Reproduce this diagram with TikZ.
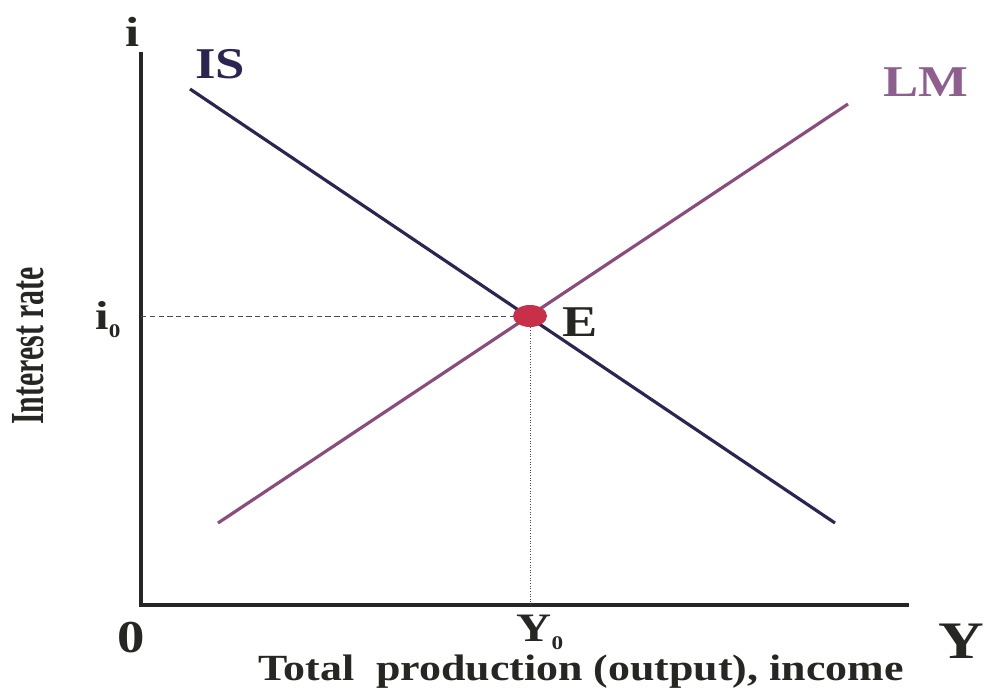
\documentclass[tikz,border=0pt]{standalone}
\usepackage{fontspec}
\setmainfont{Liberation Serif}
\usepackage{tikz}
\usetikzlibrary{shapes.geometric}

\definecolor{iscol}{HTML}{2B2552}
\definecolor{lmcol}{HTML}{8A4C7C}
\definecolor{lmlab}{HTML}{8E5E8E}
\definecolor{eqcol}{HTML}{C8304A}
\definecolor{axcol}{HTML}{262622}

\newcommand{\sub}[1]{\raisebox{-0.2em}{\fontsize{11}{11}\selectfont #1}}

\begin{document}
\begin{tikzpicture}[x=0.02cm, y=-0.02cm,
    axis/.style={draw=axcol, line width=2.3pt},
    curve/.style={line width=1.8pt},
    guide/.style={draw=black!70, densely dashed, line width=0.5pt},
    lab/.style={text=axcol, inner sep=0pt, xscale=1.2},
    big/.style={font=\bfseries\fontsize{#1}{#1}\selectfont}]
  \useasboundingbox (0,0) rectangle (988,690);

  % axes
  \coordinate (top) at (141,52);
  \coordinate (orig) at (141,605);
  \coordinate (right) at (909,605);
  \draw[axis] (top) -- (orig) -- (right);

  % curves
  \coordinate (is1) at (190,89);
  \coordinate (is2) at (835,523);
  \coordinate (lm1) at (218,523);
  \coordinate (lm2) at (848,104);
  \draw[curve, draw=iscol] (is1) -- (is2);
  \draw[curve, draw=lmcol] (lm1) -- (lm2);

  % equilibrium
  \node[ellipse, fill=eqcol, inner sep=0pt,
        minimum width=0.68cm, minimum height=0.44cm] (eq) at (530,316) {};
  \coordinate (iaxis) at (141,316);
  \coordinate (yaxis) at (530,605);
  \draw[guide] (iaxis) -- (eq.west);
  \draw[guide, densely dotted] (eq.south) -- (yaxis);

  % labels
  \node[lab, big=24] (ilab) at (133,32) {i};
  \node[lab, big=25, text=iscol] (islab) at (220,64) {IS};
  \node[lab, big=25, text=lmlab] (lmlab) at (926,82) {LM};
  \node[lab, big=25] (elab) at (580,322) {E};
  \node[lab, big=23] (i0lab) at (108,320) {i\sub{0}};
  \node[lab, big=26] (zero) at (131,638) {0};
  \node[lab, big=23] (y0lab) at (540,632) {Y\sub{0}};
  \node[lab, big=21, xscale=1.19/1.2] (xtitle) at (581,672) {Total\ \ production (output), income};
  \node[lab, big=30] (ylab) at (961,641) {Y};
  \node[text=axcol, inner sep=0pt, big=27, rotate=90, xscale=0.63] (ytitle) at (28,346) {Interest rate};
\end{tikzpicture}
\end{document}
